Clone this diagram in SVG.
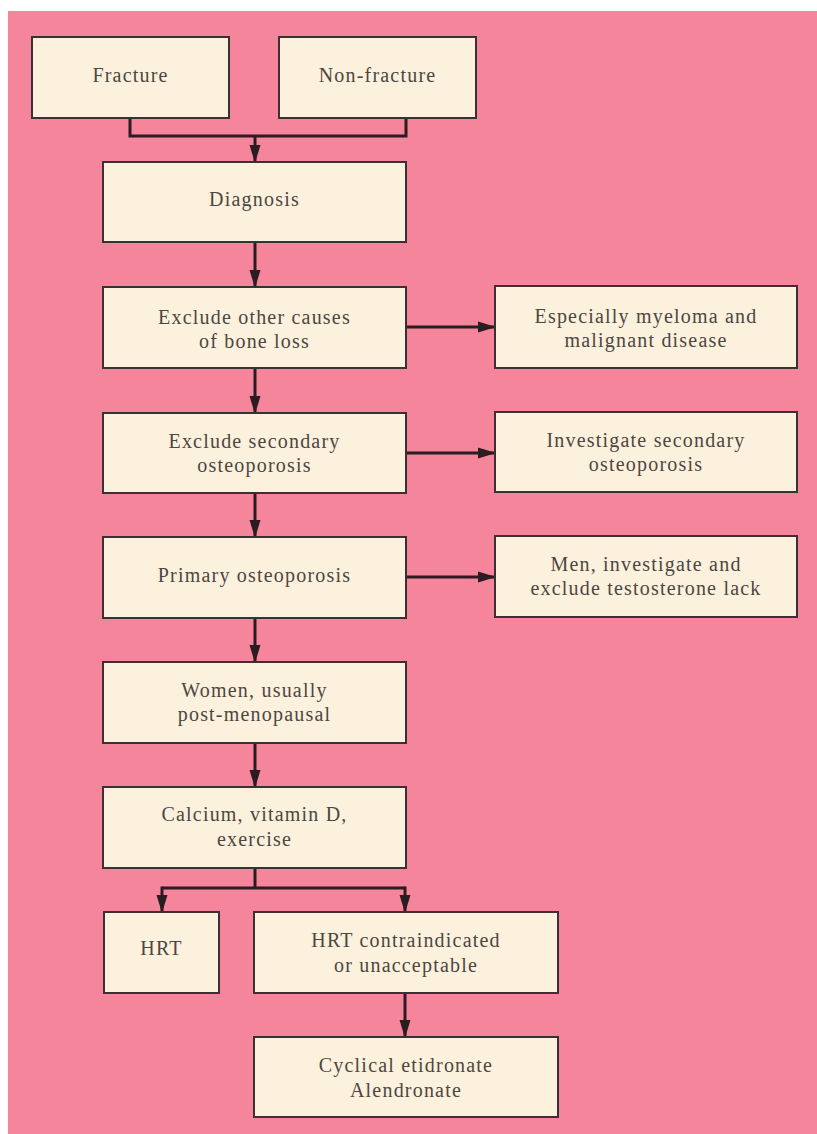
<svg xmlns="http://www.w3.org/2000/svg" width="817" height="1134" viewBox="0 0 817 1134">
<style>
.box{fill:#fcf1dd;stroke:#3b3034;stroke-width:2}
.t{font-family:"Liberation Serif","Times New Roman",serif;font-size:20px;letter-spacing:1.2px;fill:#4d4641;text-anchor:middle}
.c{fill:none;stroke:#2b1c22;stroke-width:3}
</style>
<defs>
<marker id="ah" markerUnits="userSpaceOnUse" markerWidth="18" markerHeight="12" refX="17" refY="6" orient="auto">
<polygon points="0,0.5 18,6 0,11.5" fill="#2b1c22"/>
</marker>
</defs>
<rect x="0" y="0" width="817" height="1134" fill="#ffffff"/>
<rect x="8" y="11" width="809" height="1123" fill="#f5859b"/>
<g id="connectors">
<polyline class="c" points="130,118 130,136 406,136 406,118"/>
<line class="c" x1="255" y1="136" x2="255" y2="162" marker-end="url(#ah)"/>
<line class="c" x1="255" y1="242" x2="255" y2="287" marker-end="url(#ah)"/>
<line class="c" x1="255" y1="368" x2="255" y2="413" marker-end="url(#ah)"/>
<line class="c" x1="255" y1="493" x2="255" y2="537" marker-end="url(#ah)"/>
<line class="c" x1="255" y1="618" x2="255" y2="662" marker-end="url(#ah)"/>
<line class="c" x1="255" y1="743" x2="255" y2="787" marker-end="url(#ah)"/>
<line class="c" x1="406" y1="327" x2="495" y2="327" marker-end="url(#ah)"/>
<line class="c" x1="406" y1="453" x2="495" y2="453" marker-end="url(#ah)"/>
<line class="c" x1="406" y1="577" x2="495" y2="577" marker-end="url(#ah)"/>
<polyline class="c" points="255,868 255,888"/>
<polyline class="c" points="162,888 405,888"/>
<line class="c" x1="162" y1="886.5" x2="162" y2="912" marker-end="url(#ah)"/>
<line class="c" x1="405" y1="886.5" x2="405" y2="912" marker-end="url(#ah)"/>
<line class="c" x1="405" y1="993" x2="405" y2="1037" marker-end="url(#ah)"/>
</g>
<g id="fracture"><rect class="box" x="32" y="37" width="197" height="81"/><text class="t" x="130.5" y="82">Fracture</text></g>
<g id="non-fracture"><rect class="box" x="279" y="37" width="197" height="81"/><text class="t" x="377.5" y="82">Non-fracture</text></g>
<g id="diagnosis"><rect class="box" x="103" y="162" width="303" height="80"/><text class="t" x="254.5" y="206">Diagnosis</text></g>
<g id="exclude-other"><rect class="box" x="103" y="287" width="303" height="81"/><text class="t" x="254.5" y="324">Exclude other causes</text><text class="t" x="254.5" y="348">of bone loss</text></g>
<g id="especially"><rect class="box" x="495" y="286" width="302" height="82"/><text class="t" x="646" y="323">Especially myeloma and</text><text class="t" x="646" y="347">malignant disease</text></g>
<g id="exclude-secondary"><rect class="box" x="103" y="413" width="303" height="80"/><text class="t" x="254.5" y="448">Exclude secondary</text><text class="t" x="254.5" y="472">osteoporosis</text></g>
<g id="investigate-secondary"><rect class="box" x="495" y="412" width="302" height="80"/><text class="t" x="646" y="447">Investigate secondary</text><text class="t" x="646" y="471">osteoporosis</text></g>
<g id="primary"><rect class="box" x="103" y="537" width="303" height="81"/><text class="t" x="254.5" y="582">Primary osteoporosis</text></g>
<g id="men"><rect class="box" x="495" y="536" width="302" height="81"/><text class="t" x="646" y="571">Men, investigate and</text><text class="t" x="646" y="595">exclude testosterone lack</text></g>
<g id="women"><rect class="box" x="103" y="662" width="303" height="81"/><text class="t" x="254.5" y="697">Women, usually</text><text class="t" x="254.5" y="721">post-menopausal</text></g>
<g id="calcium"><rect class="box" x="103" y="787" width="303" height="81"/><text class="t" x="254.5" y="821">Calcium, vitamin D,</text><text class="t" x="254.5" y="846">exercise</text></g>
<g id="hrt"><rect class="box" x="104" y="912" width="115" height="81"/><text class="t" x="161.5" y="955">HRT</text></g>
<g id="hrt-contra"><rect class="box" x="254" y="912" width="304" height="81"/><text class="t" x="406" y="947">HRT contraindicated</text><text class="t" x="406" y="972">or unacceptable</text></g>
<g id="cyclical"><rect class="box" x="254" y="1037" width="304" height="80"/><text class="t" x="406" y="1072">Cyclical etidronate</text><text class="t" x="406" y="1097">Alendronate</text></g>
</svg>
